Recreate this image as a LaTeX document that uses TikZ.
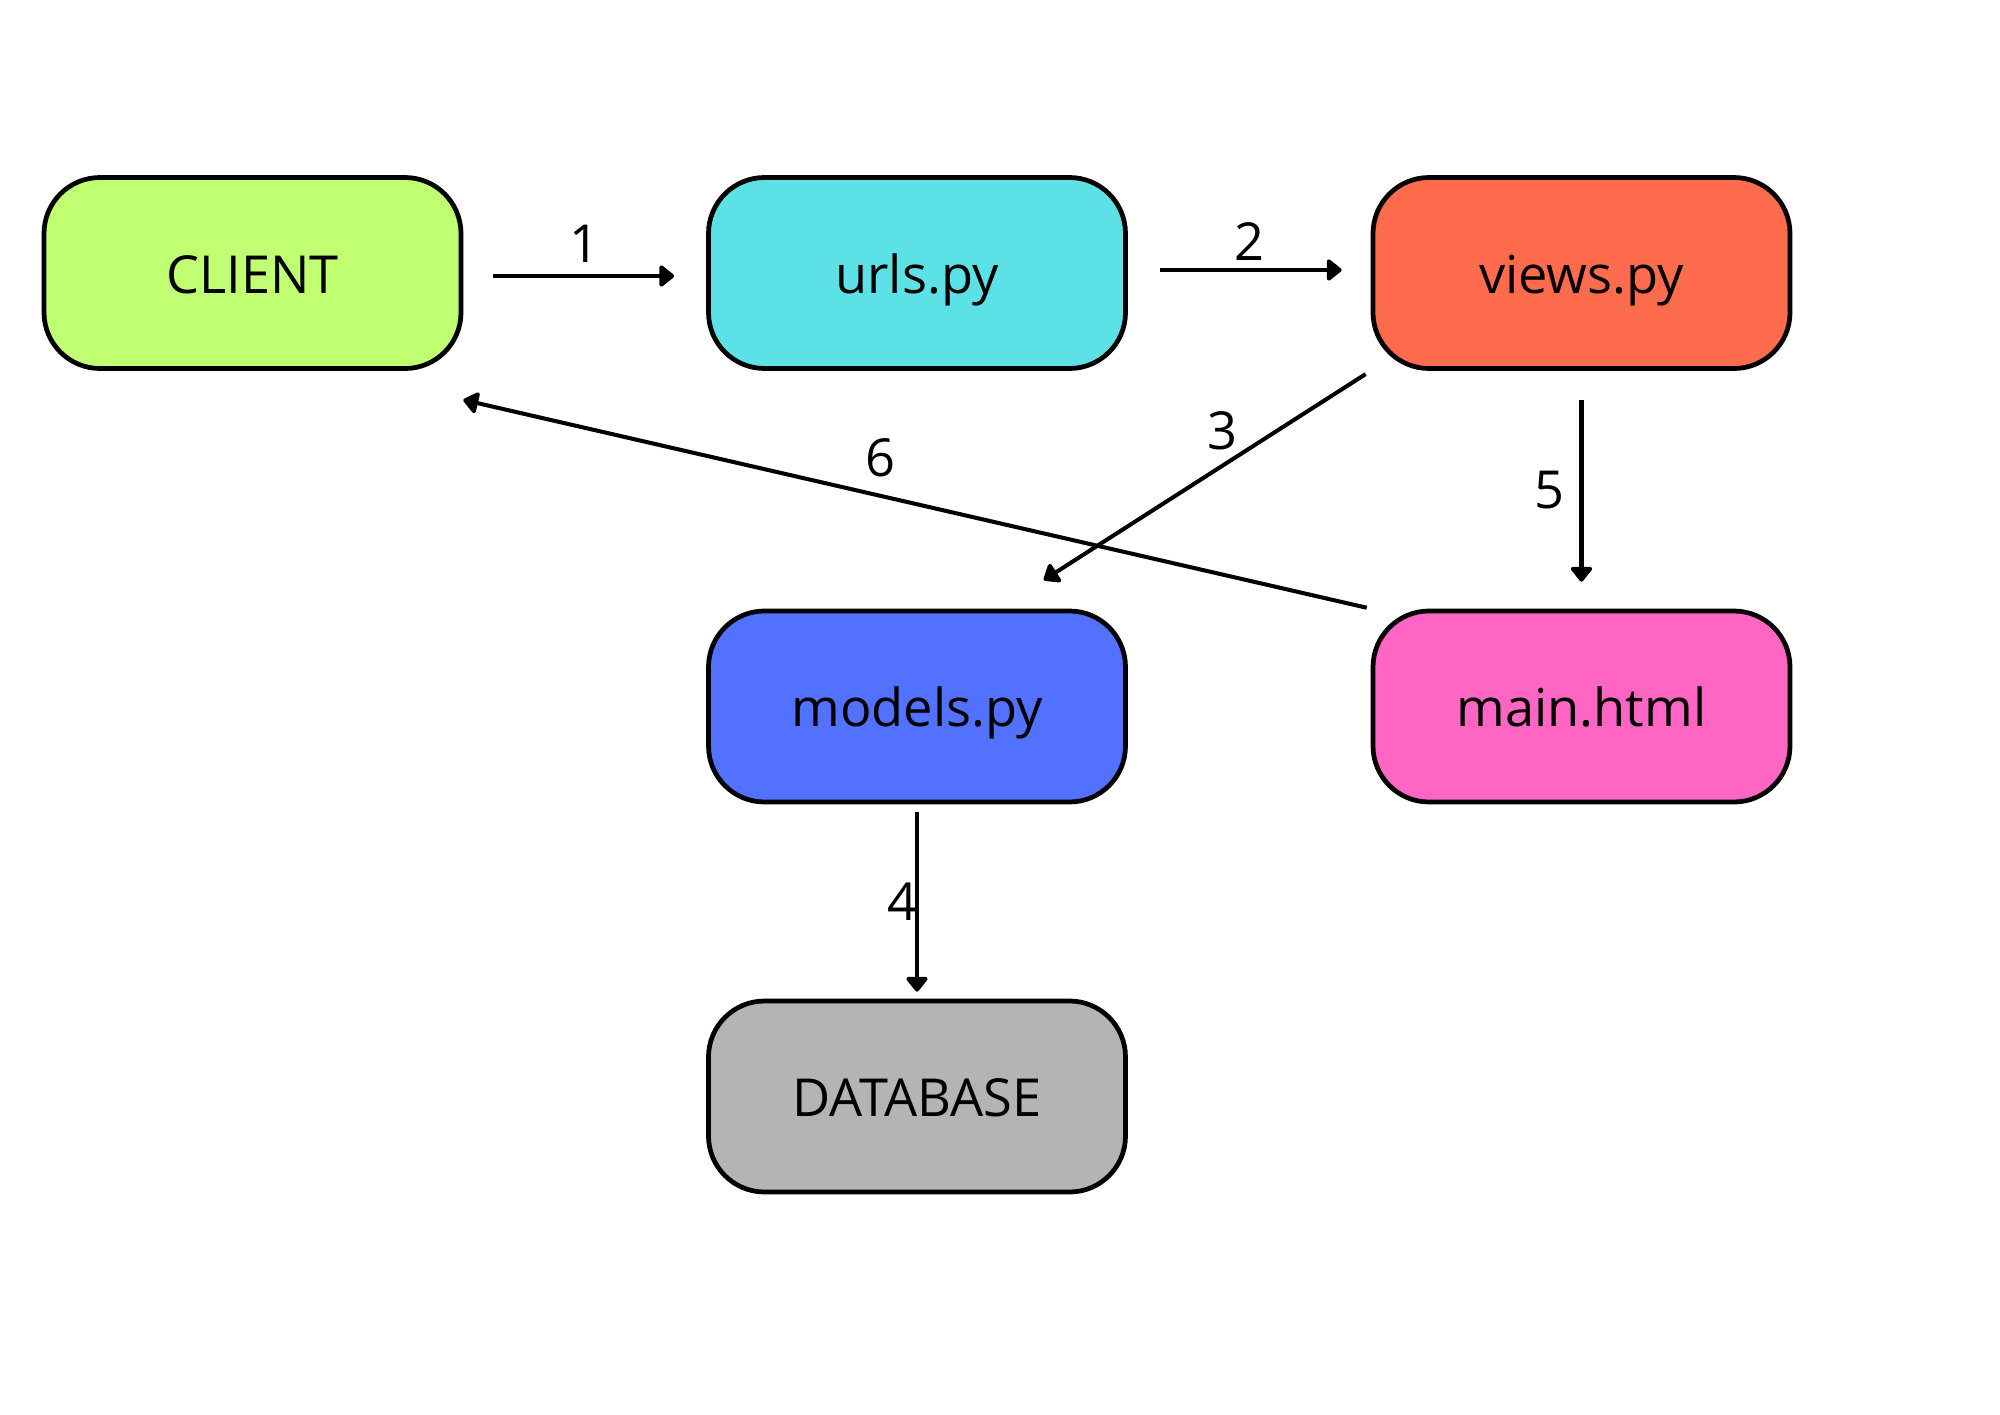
\documentclass[tikz,border=0pt]{standalone}
\usepackage{fontspec}
\setmainfont{Open Sans}
\usepackage{tikz}
\usetikzlibrary{shapes}
\usetikzlibrary{arrows,arrows.meta}
\definecolor{vert}{HTML}{C1FF72}
\definecolor{cyan}{HTML}{5CE1E6}
\definecolor{orange}{HTML}{FF6C4D}
\definecolor{bleu}{HTML}{5271FF}
\definecolor{rose}{HTML}{FF66C4}
\definecolor{gris}{HTML}{B4B4B4}
\tikzstyle{bloc}=[rectangle,draw,rounded corners=0.56cm,minimum width=4.17cm,minimum height=1.91cm,line width=1.35pt,text=black,text height=11.6pt,text depth=0pt]
\tikzstyle{lien}=[->,>={Triangle[length=4.6pt,width=7pt,round]},line width=1.15pt]
\tikzstyle{lienfort}=[lien,line width=1.4pt]
\begin{document}
\begin{tikzpicture}[font=\fontsize{14.9}{17}\selectfont]
\useasboundingbox (0,0) rectangle (20,-14.14);
\node[bloc,fill=vert] (client) at (2.525,-2.73) {CLIENT};
\node[bloc,fill=cyan] (urls) at (9.17,-2.73) {urls.py};
\node[bloc,fill=orange] (views) at (15.815,-2.73) {views.py};
\node[bloc,fill=bleu] (models) at (9.17,-7.065) {models.py};
\node[bloc,fill=rose] (html) at (15.815,-7.065) {main.html};
\node[bloc,fill=gris] (db) at (9.17,-10.965) {DATABASE};
%Placement des fleches
\draw[lienfort,shorten <=0.3cm,shorten >=0.32cm] ([yshift=-0.03cm]client.east) -- ([yshift=-0.03cm]urls.west) node[midway,yshift=0.32cm]{1};
\draw[lienfort,shorten <=0.32cm,shorten >=0.29cm] ([yshift=0.03cm]urls.east) -- ([yshift=0.03cm]views.west) node[midway,yshift=0.28cm]{2};
\draw[lien,shorten <=0.06cm,shorten >=0.53cm] (views.south west) -- (models.50) node[pos=0.4,yshift=0.35cm]{3};
\draw[lien,shorten <=0.08cm,shorten >=0.07cm] (models.south) -- (db.north) node[midway,xshift=-0.15cm]{4};
\draw[lien,shorten <=0.29cm,shorten >=0.27cm] (views.south) -- (html.north) node[midway,xshift=-0.32cm]{5};
\draw[lien,shorten <=0.04cm] (html.north west) -- ([yshift=-0.29cm]client.south east) node[pos=0.54,yshift=0.38cm]{6};
\end{tikzpicture}
\end{document}
